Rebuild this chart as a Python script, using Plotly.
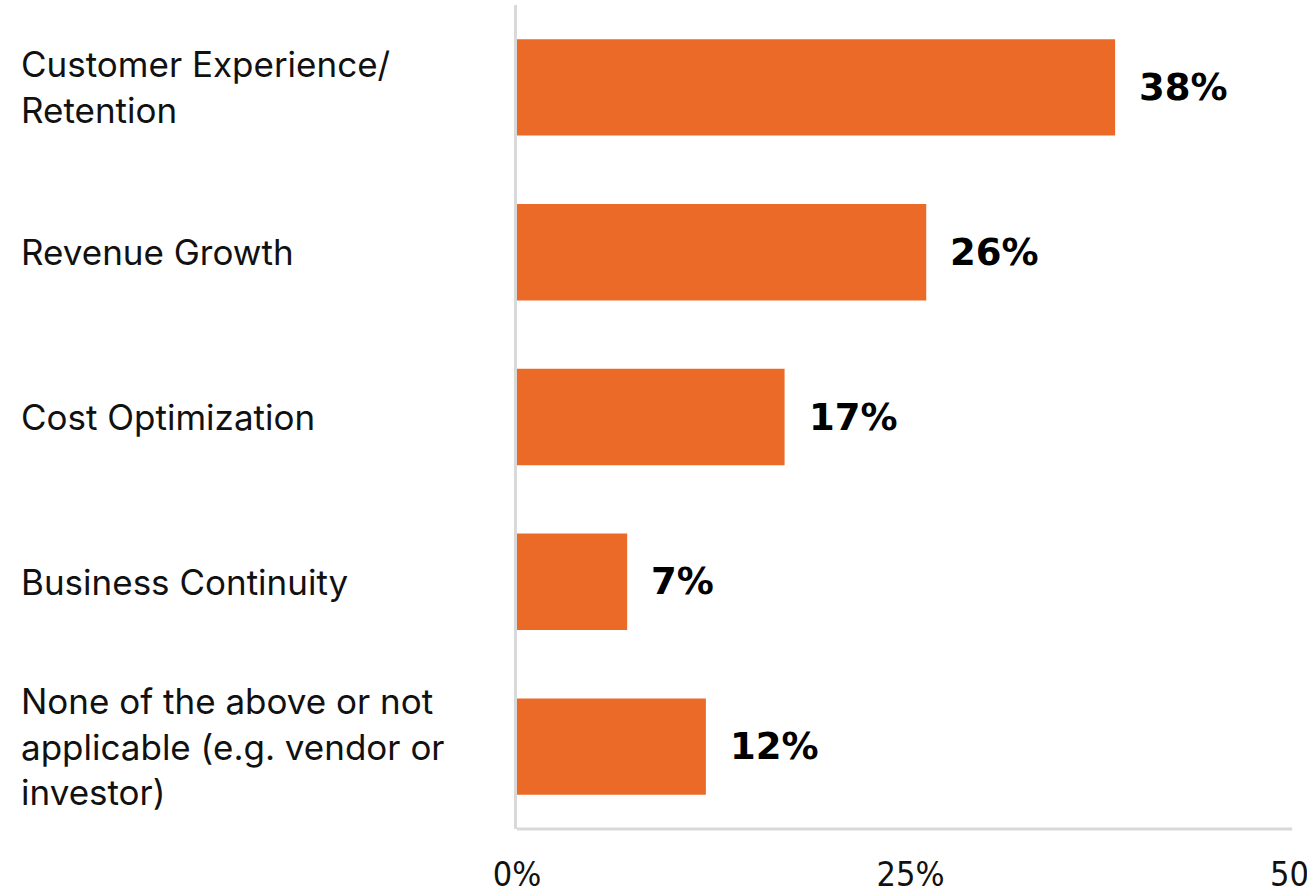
import plotly.graph_objects as go

categories = [
    "Customer Experience/<br>Retention",
    "Revenue Growth",
    "Cost Optimization",
    "Business Continuity",
    "None of the above or not<br>applicable (e.g. vendor or<br>investor)",
]
values = [38, 26, 17, 7, 12]
value_labels = ["38%", "26%", "17%", "7%", "12%"]
tick_vals = [0, 25, 50]
tick_text = ["0%", "25%", "50%"]

BAR_COLOR = "#EC6A28"
AXIS_COLOR = "#D9D9D9"

W, H = 1307, 891
ML, MR, MT, MB = 517, 3, 5, 62

fig = go.Figure()
fig.add_trace(go.Bar(
    y=list(range(len(categories))),
    x=values,
    orientation="h",
    marker=dict(color=BAR_COLOR, line=dict(width=0)),
    hoverinfo="skip",
    showlegend=False,
))

annotations = []
plot_w = W - ML - MR
for i, (cat, v, lab) in enumerate(zip(categories, values, value_labels)):
    annotations.append(dict(
        x=-(ML - 19) / plot_w, xref="paper", y=i, yref="y",
        text=cat, showarrow=False, xanchor="left", yanchor="middle", align="left",
        font=dict(family="Inter, Roboto, sans-serif", size=35, color="#111111"),
    ))
    annotations.append(dict(
        x=v, xref="x", y=i, yref="y", text=lab, showarrow=False,
        xanchor="left", yanchor="middle", xshift=22,
        font=dict(family="DejaVu Sans, sans-serif", size=37, color="#000000", weight="bold"),
    ))

fig.update_layout(
    template="none",
    width=W, height=H,
    margin=dict(l=ML, r=MR, t=MT, b=MB, pad=0, autoexpand=False),
    paper_bgcolor="white", plot_bgcolor="white",
    bargap=0.415,
    annotations=annotations,
    shapes=[dict(type="line", xref="paper", yref="paper", x0=0, x1=0.985, y0=0, y1=0,
                 line=dict(color=AXIS_COLOR, width=3))],
    xaxis=dict(
        range=[0, 50], tickvals=tick_vals, ticktext=tick_text,
        showgrid=False, zeroline=False, showline=False, ticks="",
        tickfont=dict(family="Liberation Sans Narrow, DejaVu Sans Condensed, sans-serif", size=34, color="#111111"),
        ticklabelstandoff=22, ticklabeloverflow="allow", fixedrange=True, automargin=False,
    ),
    yaxis=dict(
        range=[len(categories) - 0.5, -0.5], showticklabels=False, showgrid=False,
        zeroline=False, showline=True, linecolor=AXIS_COLOR, linewidth=3, ticks="",
        fixedrange=True, automargin=False,
    ),
)

fig.write_html(
    "out.html",
    config={"displayModeBar": False},
    post_script="document.body.style.margin='0';document.body.style.overflow='hidden';",
)
